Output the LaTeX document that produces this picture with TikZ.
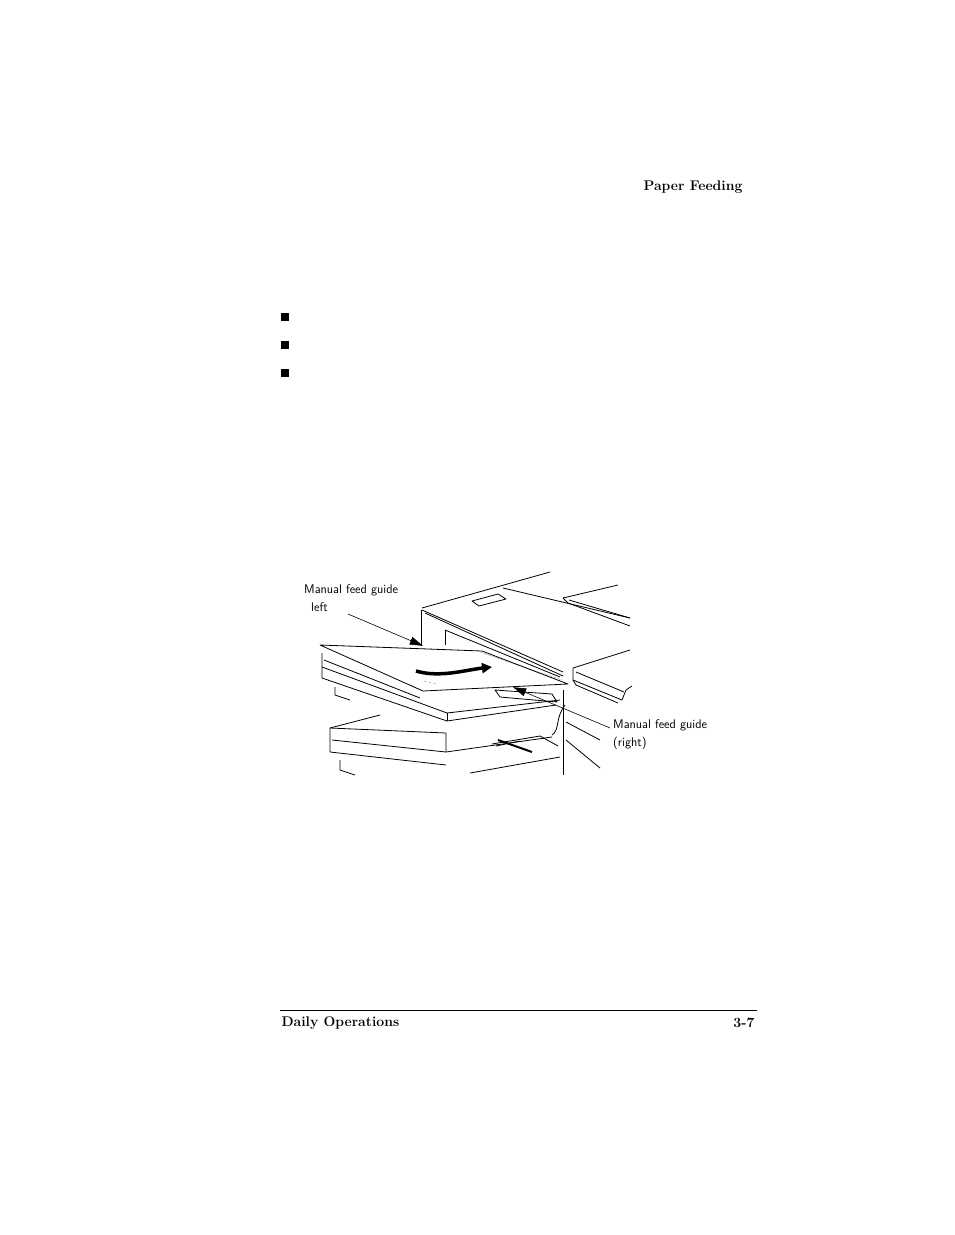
\documentclass[tikz,border=0pt]{standalone}
\usepackage{amssymb}
\usepackage{fontspec}
\usetikzlibrary{arrows,arrows.meta}
\begin{document}
\begin{tikzpicture}[x=1pt,y=-1pt,line join=round]
	\useasboundingbox (0,0) rectangle (954,1235);
	\tikzset{hdr/.style={font=\bfseries\fontsize{14}{16}\selectfont\addfontfeature{LetterSpace=10}},
		lbl/.style={font=\sffamily\fontsize{12.5}{14}\selectfont,inner sep=0pt},
		ln/.style={line width=0.8pt},
		bul/.style={fill=black},
		lead/.style={line width=0.6pt,-{Triangle[length=13pt,width=8pt]},shorten >=-2pt}}
	
	% page header and footer
	\node[hdr,anchor=east] (title) at (746,187) {Paper Feeding};
	\foreach \y in {317,345,373}
		\fill[bul] (281,\y-4) rectangle (289,\y+4);
	\draw[line width=0.6pt] (280,1010) -- (757,1010);
	\node[hdr,anchor=west] (foot) at (278,1023) {Daily Operations};
	\node[hdr,anchor=east] (page) at (758,1023) {3-7};
	
	% printer housing
	\draw[ln] (422,608) -- (550,572);
	\draw[ln] (421,610) -- (421,646);
	\draw[ln] (422,610) -- (563,672);
	\draw[ln] (425,613) -- (563,676);
	\draw[ln] (445,630) -- (445,645);
	\draw[ln] (445,630) -- (560,677);
	\draw[ln] (472,601) -- (498,594) -- (506,599) -- (479,606) -- cycle;
	\draw[ln] (503,588) -- (630,618);
	\draw[ln] (563,598) -- (618,585);
	\draw[ln] (563,598) -- (568,603) -- (630,626);
	\draw[ln] (569,600) -- (630,618);
	% exit tray
	\draw[ln] (573,668) -- (630,650);
	\draw[ln] (573,668) -- (573,680) -- (622,700) -- (626,690) -- (632,686);
	\draw[ln] (576,672) -- (624,692);
	\draw[ln] (573,680) -- (576,685) -- (618,703);
	\draw[ln] (563,690) -- (563,775);
	\draw[ln] (566,722) -- (600,740);
	\draw[ln] (566,740) -- (600,768);
	
	% paper
	\draw[ln,fill=white] (320,645) -- (482,651) -- (568,684) -- (423,691) -- cycle;
	\draw[line width=0.4pt,densely dotted] (480,652) -- (562,680);
	% upper tray
	\draw[ln] (322,653) -- (322,667) -- (447,713) -- (560,700);
	\draw[ln] (322,667) -- (322,678) -- (447,721) -- (556,705);
	\draw[ln] (447,713) -- (447,721);
	\draw[ln] (324,660) -- (420,698);
	\draw[ln] (335,687) -- (335,695) -- (350,700);
	\draw[ln] (495,690) -- (500,697) -- (557,702) -- (552,694) -- cycle;
	\draw[ln] (565,705) .. controls (555,718) and (560,730) .. (552,735);
	% lower unit
	\draw[ln] (330,728) -- (380,715);
	\draw[ln] (330,728) -- (446,733) -- (446,752);
	\draw[ln] (330,728) -- (330,752) -- (446,765);
	\draw[ln] (332,740) -- (446,752) -- (552,737);
	\draw[ln] (340,760) -- (340,770) -- (355,775);
	\draw[ln] (470,773) -- (560,757);
	\draw[ln] (492,744) -- (540,736) -- (558,746);
	\draw[line width=2pt] (498,740) -- (532,752);
	\draw[ln] (496,746) -- (520,741);
	
	% feed arrow on paper
	\draw[line width=3.5pt,-{Triangle[length=10pt,width=10pt]}] (416,671) .. controls (440,678) and (465,670) .. (492,667);
	\node[font=\tiny,rotate=-15] (mark) at (430,683) {- - -};
	
	% labels with leaders
	\node[lbl,anchor=west] (lblA) at (304,590) {Manual feed guide};
	\node[lbl,anchor=west] (lblB) at (311,607) {left};
	\coordinate (gA) at (421,645);
	\draw[lead] (348,614) -- (gA);
	\node[lbl,anchor=west] (lblC) at (613,725) {Manual feed guide};
	\node[lbl,anchor=west] (lblD) at (613,743) {(right)};
	\coordinate (gB) at (515,688);
	\draw[lead] (610,728) -- (gB);
\end{tikzpicture}
\end{document}
